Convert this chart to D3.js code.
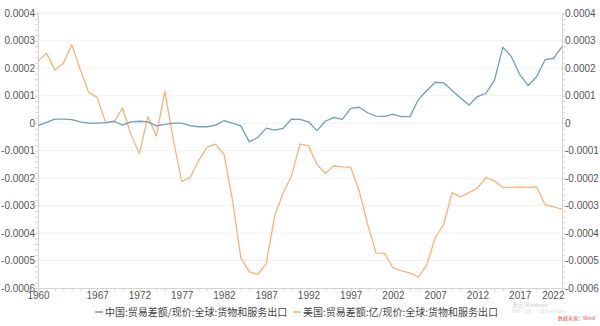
<!DOCTYPE html>
<html><head><meta charset="utf-8">
<script src="https://cdn.jsdelivr.net/npm/d3@7/dist/d3.min.js"></script>
<style>
html,body{margin:0;padding:0;background:#fff;}
svg{display:block;font-family:"Noto Sans CJK SC","Noto Sans",sans-serif;}
</style></head>
<body><svg id="c" width="600" height="326"></svg>
<script>
const years = d3.range(1960, 2023);
// values in units of 1e-4
const china = [-0.09,0.03,0.15,0.15,0.13,0.05,0.0,0.0,0.02,0.07,-0.07,0.05,0.07,0.05,-0.10,-0.04,0.0,0.0,-0.09,-0.13,
  -0.13,-0.07,0.09,0.0,-0.10,-0.68,-0.52,-0.18,-0.25,-0.19,0.15,0.14,0.05,-0.27,0.07,0.21,0.14,0.54,0.58,0.38,
  0.26,0.25,0.32,0.24,0.24,0.85,1.19,1.49,1.47,1.19,0.92,0.66,0.97,1.09,1.55,2.77,2.43,1.77,1.37,1.70,
  2.31,2.36,2.79];
const usa = [2.26,2.55,1.94,2.18,2.86,1.95,1.12,0.94,0.02,0.05,0.55,-0.42,-1.10,0.24,-0.47,1.16,-0.58,-2.12,-1.98,-1.37,
  -0.87,-0.76,-1.13,-2.77,-4.90,-5.41,-5.50,-5.12,-3.38,-2.53,-1.92,-0.76,-0.82,-1.49,-1.83,-1.55,-1.59,-1.61,-2.46,-3.68,
  -4.72,-4.74,-5.26,-5.38,-5.45,-5.60,-5.16,-4.17,-3.68,-2.53,-2.68,-2.53,-2.36,-1.98,-2.10,-2.34,-2.34,-2.32,-2.34,-2.32,
  -2.97,-3.05,-3.13];
const yTicks = [-6,-5,-4,-3,-2,-1,0,1,2,3,4];
const xTicks = [1960,1967,1972,1977,1982,1987,1992,1997,2002,2007,2012,2017,2022];
const seriesNames = ["中国:贸易差额/现价:全球:货物和服务出口","美国:贸易差额:亿/现价:全球:货物和服务出口"];
const colors = ["#6f9dc2","#f7b27c"];

const svg = d3.select("#c");
const L = 38, R = 562, T = 13.3, B = 288;
const x = d3.scaleLinear().domain([1960, 2022]).range([L, R]);
const y = d3.scaleLinear().domain([-6, 4]).range([B, T]);
const fmt = v => v === 0 ? "0" : (v / 10000).toFixed(4);

// grid
svg.append("g").selectAll("line").data(yTicks.filter(d => d !== -6)).join("line")
  .attr("x1", L).attr("x2", R).attr("y1", d => y(d)).attr("y2", d => y(d))
  .attr("stroke", "#f2f2f2").attr("stroke-width", 1);

// axes
const axStyle = g => {
  g.select(".domain").attr("stroke", "#d4d4d4");
  g.selectAll(".tick line").attr("stroke", "#d4d4d4");
  g.selectAll("text").attr("fill", "#555").attr("font-size", "10px")
    .attr("font-family", "'Liberation Sans','Noto Sans',sans-serif");
};
const minor = d3.range(-6, 4.001, 0.2);
svg.append("g").attr("transform", `translate(${L},0)`)
  .call(d3.axisLeft(y).tickValues(minor).tickSize(3).tickFormat(""))
  .call(axStyle);
svg.append("g").attr("transform", `translate(${L},0)`)
  .call(d3.axisLeft(y).tickValues(yTicks).tickSize(0).tickPadding(3).tickFormat(fmt))
  .call(axStyle).call(g => g.select(".domain").remove());
svg.append("g").attr("transform", `translate(${R},0)`)
  .call(d3.axisRight(y).tickValues(minor).tickSize(3).tickFormat(""))
  .call(axStyle);
svg.append("g").attr("transform", `translate(${R},0)`)
  .call(d3.axisRight(y).tickValues(yTicks).tickSize(0).tickPadding(3).tickFormat(fmt))
  .call(axStyle).call(g => g.select(".domain").remove());
svg.append("g").attr("transform", `translate(0,${B})`)
  .call(d3.axisBottom(x).tickValues(years).tickSize(3).tickFormat(""))
  .call(axStyle);
const xb = svg.append("g").attr("transform", `translate(0,${B})`)
  .call(d3.axisBottom(x).tickValues(xTicks).tickSize(0).tickPadding(4).tickFormat(d3.format("d")))
  .call(axStyle).call(g => g.select(".domain").remove());
xb.selectAll(".tick").filter(d => d === 2022).select("text").attr("text-anchor", "end").attr("dx", "2");

// lines
const line = d3.line().x((d, i) => x(years[i])).y(d => y(d));
[usa, china].forEach((s, k) => {
  svg.append("path").datum(s).attr("d", line).attr("fill", "none")
    .attr("stroke", k === 0 ? colors[1] : colors[0]).attr("stroke-width", 1.3)
    .attr("stroke-linejoin", "round");
});

// legend
const leg = svg.append("g").attr("font-size", "10px").attr("fill", "#444");
const legPos = [95, 293];
seriesNames.forEach((n, i) => {
  leg.append("line").attr("x1", legPos[i]).attr("x2", legPos[i] + 8)
    .attr("y1", 312).attr("y2", 312).attr("stroke", colors[i]).attr("stroke-width", 1.5);
  leg.append("text").attr("x", legPos[i] + 10).attr("y", 315.5).attr("fill", "#444").text(n);
});

// watermark / source
svg.append("text").attr("x", 512).attr("y", 307).attr("font-size", "5.5px").attr("fill", "#ccc").text("激活 Windows");
svg.append("text").attr("x", 512).attr("y", 313).attr("font-size", "4px").attr("fill", "#ddd").text("转到“设置”以激活 Windows。");
svg.append("text").attr("x", 595).attr("y", 320).attr("text-anchor", "end").attr("font-size", "5px").attr("fill", "#e05050").text("数据来源：Wind");
</script></body></html>
